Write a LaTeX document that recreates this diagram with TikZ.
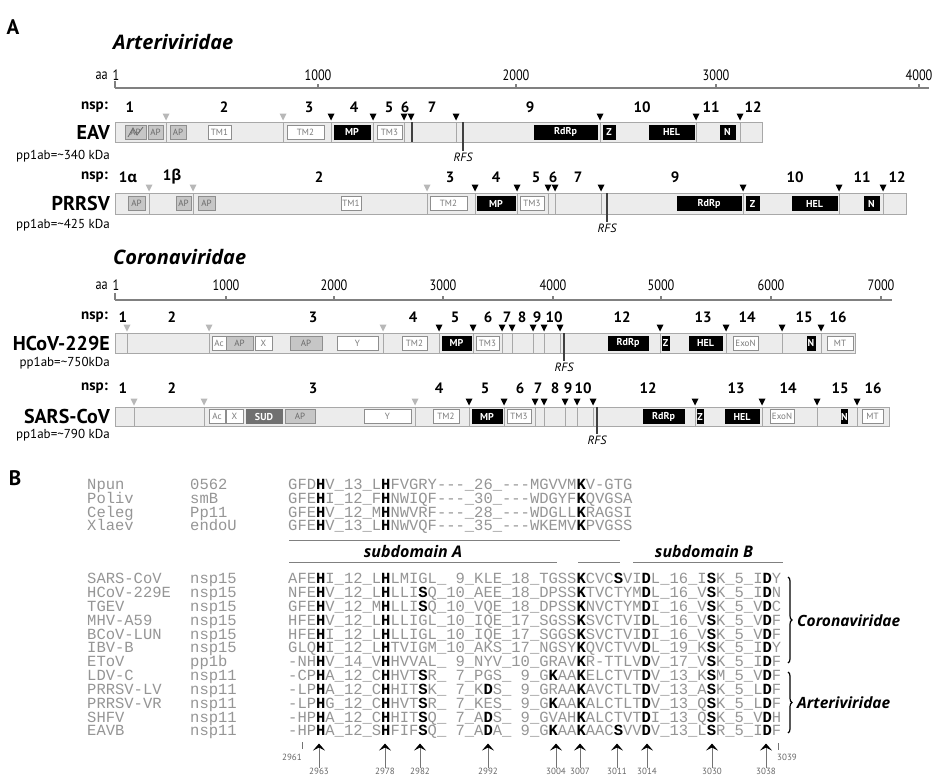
\documentclass[tikz,border=0pt]{standalone}
\usepackage{fontspec}
\setmainfont{PT Sans}
\setmonofont{Liberation Mono}
\newfontfamily\grk{Open Sans}
\newfontfamily\cond[FakeStretch=0.82]{PT Sans}
\usetikzlibrary{arrows.meta,decorations.pathreplacing}

\definecolor{barfill}{HTML}{ECECEC}
\definecolor{bargray}{HTML}{A8A8A8}
\definecolor{trigray}{HTML}{B8B8B8}
\definecolor{apfill}{HTML}{C6C6C6}
\definecolor{apline}{HTML}{8E8E8E}
\definecolor{aptext}{HTML}{6A6A6A}
\definecolor{wttext}{HTML}{7A7A7A}
\definecolor{sudfill}{HTML}{707070}
\definecolor{rulergray}{HTML}{808080}
\definecolor{seqgray}{HTML}{959595}

% highlighted residue, gap run, padding digit
\newcommand\hl[1]{{\color{black}\bfseries #1}}
\newcommand\gp{-{}-{}-}
\newcommand\pd{\hphantom{0}}

% row helpers: cleavage marks, cut lines, domain boxes, nsp numbers
\newcommand\tris[3]{\foreach \x in {#3} \fill[#1] (\x-3.5,#2) -- ++(7,0) -- ++(-3.5,7) -- cycle;}
\newcommand\cuts[3]{\foreach \x in {#3} \draw[cut] (\x,#1) -- (\x,#2);}
\newcommand\doms[3]{\foreach \a/\b/\t in {#3} \node[#2, minimum width={(\b-\a)*1pt}] (d#1-\a) at ({(\a+\b)/2},#1) {\t};}
\newcommand\nsps[2]{\foreach \x/\t in {#2} \node[nsp] (nsp#1-\x) at (\x,#1) {\t};}
\newcommand\seqrow[4]{%
  \node[seqtxt] (name-#2) at (87,#1) {#2};
  \node[seqtxt] (prot-#2) at (190,#1) {#3};
  \node[seqtxt] (seq-#2) at (288,#1) {#4};}

\begin{document}
\begin{tikzpicture}[x=1pt,y=-1pt]
\tikzstyle{panel}   = [font=\fontsize{21}{21}\selectfont\bfseries]
\tikzstyle{family}  = [anchor=west, inner sep=0pt, font=\grk\fontsize{20}{20}\selectfont\bfseries\itshape]
\tikzstyle{ruler}   = [draw=rulergray, line width=1.4pt]
\tikzstyle{rlbl}    = [inner sep=0pt, font=\cond\fontsize{15}{15}\selectfont]
\tikzstyle{nsp}     = [inner sep=0pt, font=\fontsize{15}{15}\selectfont\bfseries]
\tikzstyle{virus}   = [anchor=east, inner sep=0pt, font=\fontsize{20}{20}\selectfont\bfseries]
\tikzstyle{mass}    = [anchor=east, inner sep=0pt, font=\fontsize{13}{13}\selectfont]
\tikzstyle{bar}     = [draw=bargray, fill=barfill, line width=0.8pt]
\tikzstyle{cut}     = [draw=bargray, line width=0.8pt]
\tikzstyle{cutdark} = [draw=black!75, line width=1.1pt]
\tikzstyle{trilt}   = [fill=trigray]
\tikzstyle{tribk}   = [fill=black]
\tikzstyle{rfslbl}  = [anchor=north, inner sep=1pt, font=\fontsize{12}{12}\selectfont\itshape]
\tikzstyle{dom}     = [rectangle, minimum height=14pt, inner sep=0pt, line width=0.6pt, font=\fontsize{9}{9}\selectfont]
\tikzstyle{dap}     = [dom, draw=apline, fill=apfill, text=aptext]
\tikzstyle{dwt}     = [dom, draw=apline, fill=white, text=wttext]
\tikzstyle{dbk}     = [dom, draw=black, fill=black, text=white, font=\fontsize{10}{10}\selectfont\bfseries]
\tikzstyle{dsud}    = [dom, draw=sudfill, fill=sudfill, text=white, font=\fontsize{10}{10}\selectfont\bfseries]
\tikzstyle{seqtxt}  = [anchor=west, inner sep=0pt, text height=9pt, text depth=0pt, text=seqgray, font=\ttfamily\fontsize{15.5}{15.5}\selectfont]
\tikzstyle{subline} = [draw=rulergray, line width=0.9pt]
\tikzstyle{sublbl}  = [inner sep=0pt, font=\grk\fontsize{16}{16}\selectfont\bfseries\itshape]
\tikzstyle{grouplbl}= [anchor=west, inner sep=0pt, font=\grk\fontsize{15.5}{15.5}\selectfont\bfseries\itshape]
\tikzstyle{brace}   = [decorate, decoration={brace, amplitude=4pt}, line width=1.2pt]
\tikzstyle{poslbl}  = [inner sep=0pt, text=black!60, font=\fontsize{9}{9}\selectfont]
\tikzstyle{posarrow}= [draw=black!55, line width=0.8pt, -{Stealth[length=7pt, width=12pt, inset=3pt, black]}]

\useasboundingbox (0,0) rectangle (934,776);

%% panel A
\node[panel] (labA) at (13,27) {A};
\node[family] (arteri) at (113,42) {Arteriviridae};

\draw[ruler] (115,88) -- (929,88);
\draw[ruler] (115,88) -- (115,81);
\node[rlbl, anchor=east] (aa1) at (108,76) {aa};
\node[rlbl] (r1-1) at (116,75) {1};
\foreach \x/\t in {318/1000, 516/2000, 716/3000, 919/4000} {
  \draw[ruler] (\x,88) -- (\x,84);
  \node[rlbl] (r1-\t) at (\x,75) {\t};
}

% EAV
\node[nsp, anchor=east] (nspEAV) at (108,107) {nsp:};
\nsps{107}{130/1, 224/2, 309/3, 354/4, 389/5, 405/6, 432/7, 530/9, 642/10, 711/11, 753/12}
\draw[bar] (115,122) rectangle (762,142);
\cuts{122}{142}{166,283,331,373,404,456,600,696,740}
\draw[cutdark] (412,122) -- (412,142);
\tris{trilt}{113.5}{166,283}
\tris{tribk}{113.5}{331,373,404,411,456,600,696,740}
\doms{132}{dap}{125/146/AP, 148/163/AP, 170/186/AP}
\draw[aptext, line width=0.8pt] (128,137) -- (133,128) -- (137,135) -- (143,127);
\doms{132}{dwt}{208/231/TM1, 287/324/TM2, 377/402/TM3}
\doms{132}{dbk}{334/370/MP, 534/597/RdRp, 603/615/Z, 649/694/HEL, 720/735/N}
\draw[cutdark] (463,122) -- (463,151) node[rfslbl] (rfsEAV) {RFS};
\node[virus] (EAV) at (110,132) {EAV};
\node[mass] (mEAV) at (110,156) {pp1ab=\textasciitilde 340 kDa};

% PRRSV
\node[nsp, anchor=east] (nspPRRSV) at (108,177) {nsp:};
\nsps{177}{128/1{\grk α}, 172/1{\grk β}, 319/2, 450/3, 496/4, 536/5, 553/6, 578/7, 675/9, 795/10, 862/11, 897/12}
\draw[bar] (115,193) rectangle (906,214);
\cuts{193}{214}{149,193,427,475,517,548,555,601,743,839,883}
\tris{trilt}{184.5}{149,193,427}
\tris{tribk}{184.5}{475,517,548,555,601,743,839,883}
\doms{203.5}{dap}{128/145/AP, 176/191/AP, 198/215/AP}
\doms{203.5}{dwt}{341/361/TM1, 430/467/TM2, 520/544/TM3}
\doms{203.5}{dbk}{477/515/MP, 677/741/RdRp, 746/759/Z, 792/837/HEL, 864/879/N}
\draw[cutdark] (607,193) -- (607,222) node[rfslbl] (rfsPRRSV) {RFS};
\node[virus] (PRRSV) at (110,203) {PRRSV};
\node[mass] (mPRRSV) at (110,225) {pp1ab=\textasciitilde 425 kDa};

\node[family] (corona) at (113,257) {Coronaviridae};

\draw[ruler] (115,300) -- (892,300);
\draw[ruler] (115,300) -- (115,293);
\node[rlbl, anchor=east] (aa2) at (108,286) {aa};
\node[rlbl] (r2-1) at (116,285) {1};
\foreach \x/\t in {226/1000, 334/2000, 443/3000, 553/4000, 661/5000, 771/6000, 881/7000} {
  \draw[ruler] (\x,300) -- (\x,296);
  \node[rlbl] (r2-\t) at (\x,285) {\t};
}

% HCoV-229E
\node[nsp, anchor=east] (nspHCoV) at (108,317) {nsp:};
\nsps{317}{123/1, 172/2, 313/3, 413/4, 455/5, 488/6, 507/7, 522/8, 537/9, 554/10, 622/12, 703/13, 747/14, 804/15, 838/16}
\draw[bar] (115,333) rectangle (855,353);
\cuts{333}{353}{127,209,383,439,473,502,512,533,544,560,660,726,782,821}
\tris{trilt}{324.5}{127,209,383}
\tris{tribk}{324.5}{439,473,502,512,533,544,560,660,726,782,821}
\doms{343}{dwt}{212/226/Ac, 255/272/X, 337/378/Y, 402/427/TM2, 476/499/TM3, 733/758/ExoN, 827/853/MT}
\doms{343}{dap}{226/253/AP, 290/322/AP}
\doms{343}{dbk}{442/471/MP, 608/648/RdRp, 662/669/Z, 689/722/HEL, 807/815/N}
\draw[cutdark] (564,333) -- (564,361) node[rfslbl] (rfsHCoV) {RFS};
\node[virus] (HCoV) at (110,343) {HCoV-229E};
\node[mass] (mHCoV) at (110,363) {pp1ab=\textasciitilde 750kDa};

% SARS-CoV
\node[nsp, anchor=east] (nspSARS) at (108,388) {nsp:};
\nsps{388}{123/1, 172/2, 313/3, 439/4, 485/5, 520/6, 538/7, 555/8, 568/9, 583/10, 648/12, 736/13, 788/14, 840/15, 873/16}
\draw[bar] (115,407) rectangle (889,426);
\cuts{407}{426}{134,204,415,469,504,535,544,565,577,593,695,762,817,857}
\tris{trilt}{398.5}{134,204,415}
\tris{tribk}{398.5}{469,504,535,544,565,577,593,695,762,817,857}
\doms{416.5}{dwt}{209/225/Ac, 226/243/X, 364/411/Y, 433/459/TM2, 507/531/TM3, 770/794/ExoN, 862/883/MT}
\doms{416.5}{dsud}{246/282/SUD}
\doms{416.5}{dap}{285/315/AP}
\doms{416.5}{dbk}{472/502/MP, 643/684/RdRp, 697/703/Z, 725/759/HEL, 842/847/N}
\draw[cutdark] (597,407) -- (597,434) node[rfslbl] (rfsSARS) {RFS};
\node[virus] (SARS) at (110,416) {SARS-CoV};
\node[mass] (mSARS) at (110,435) {pp1ab=\textasciitilde 790 kDa};

%% panel B
\node[panel] (labB) at (15,478) {B};

\seqrow{485}{Npun}{0562}{GFD\hl{H}V\_13\_L\hl{H}FVGRY\gp\_26\_\gp MGVVM\hl{K}V-GTG}
\seqrow{499}{Poliv}{smB}{GFE\hl{H}I\_12\_F\hl{H}NWIQF\gp\_30\_\gp WDGYF\hl{K}QVGSA}
\seqrow{513}{Celeg}{Pp11}{GFE\hl{H}V\_12\_M\hl{H}NWVRF\gp\_28\_\gp WDGLL\hl{K}RAGSI}
\seqrow{526}{Xlaev}{endoU}{GFE\hl{H}V\_13\_L\hl{H}NWVQF\gp\_35\_\gp WKEMV\hl{K}PVGSS}

\draw[subline] (289,540) -- (620,540);
\draw[subline] (289,562) -- (557,562);
\draw[subline] (578,562) -- (620,562);
\draw[subline] (633,562) -- (783,562);
\node[sublbl] (subA) at (413,551) {subdomain A};
\node[sublbl] (subB) at (704,551) {subdomain B};

\seqrow{579}{SARS-CoV}{nsp15}{AFE\hl{H}I\_12\_L\hl{H}LMIGL\_\pd9\_KLE\_18\_TGSS\hl{K}CVC\hl{S}VI\hl{D}L\_16\_I\hl{S}K\_5\_I\hl{D}Y}
\seqrow{593}{HCoV-229E}{nsp15}{NFE\hl{H}V\_12\_L\hl{H}LLI\hl{S}Q\_10\_AEE\_18\_DPSS\hl{K}TVCTYM\hl{D}L\_16\_V\hl{S}K\_5\_I\hl{D}N}
\seqrow{607}{TGEV}{nsp15}{GFE\hl{H}V\_12\_M\hl{H}LLI\hl{S}Q\_10\_VQE\_18\_DPSS\hl{K}NVCTYM\hl{D}I\_16\_V\hl{S}K\_5\_V\hl{D}C}
\seqrow{621}{MHV-A59}{nsp15}{HFE\hl{H}V\_12\_L\hl{H}LLIGL\_10\_IQE\_17\_SGSS\hl{K}SVCTVI\hl{D}L\_16\_V\hl{S}K\_5\_V\hl{D}F}
\seqrow{635}{BCoV-LUN}{nsp15}{HFE\hl{H}I\_12\_L\hl{H}LLIGL\_10\_IQE\_17\_SGGS\hl{K}SVCTVI\hl{D}I\_16\_V\hl{S}K\_5\_V\hl{D}F}
\seqrow{648}{IBV-B}{nsp15}{GLQ\hl{H}I\_12\_L\hl{H}TVIGM\_10\_AKS\_17\_NGSY\hl{K}QVCTVV\hl{D}L\_19\_K\hl{S}K\_5\_I\hl{D}Y}
\seqrow{662}{EToV}{pp1b}{-NH\hl{H}V\_14\_V\hl{H}HVVAL\_\pd9\_NYV\_10\_GRAV\hl{K}R-TTLV\hl{D}V\_17\_V\hl{S}K\_5\_I\hl{D}F}
\seqrow{676}{LDV-C}{nsp11}{-CP\hl{H}A\_12\_C\hl{H}HVT\hl{S}R\_\pd7\_PGS\_\pd9\_G\hl{K}AA\hl{K}ELCTVT\hl{D}V\_13\_K\hl{S}M\_5\_V\hl{D}F}
\seqrow{690}{PRRSV-LV}{nsp11}{-LP\hl{H}A\_12\_C\hl{H}HIT\hl{S}K\_\pd7\_K\hl{D}S\_\pd9\_GRAA\hl{K}AVCTLT\hl{D}V\_13\_A\hl{S}K\_5\_L\hl{D}F}
\seqrow{704}{PRRSV-VR}{nsp11}{-LP\hl{H}G\_12\_C\hl{H}HVT\hl{S}R\_\pd7\_KES\_\pd9\_G\hl{K}AA\hl{K}ALCTLT\hl{D}V\_13\_Q\hl{S}K\_5\_L\hl{D}F}
\seqrow{718}{SHFV}{nsp11}{-HP\hl{H}A\_12\_C\hl{H}HIT\hl{S}Q\_\pd7\_A\hl{D}S\_\pd9\_GVAH\hl{K}ALCTVT\hl{D}I\_13\_Q\hl{S}K\_5\_V\hl{D}H}
\seqrow{731}{EAVB}{nsp11}{-HP\hl{H}A\_12\_S\hl{H}FIF\hl{S}Q\_\pd7\_A\hl{D}A\_\pd9\_G\hl{K}AA\hl{K}AAC\hl{S}VV\hl{D}V\_13\_L\hl{S}R\_5\_I\hl{D}F}

\draw[brace] (788,577) -- (788,663);
\node[grouplbl] (gCorona) at (797,621) {Coronaviridae};
\draw[brace] (788,672) -- (788,733);
\node[grouplbl] (gArteri) at (797,703) {Arteriviridae};

% residue numbers
\draw[draw=black!55, line width=0.8pt] (302,742) -- (302,749);
\node[poslbl, anchor=east] (p2961) at (302,757) {2961};
\draw[draw=black!55, line width=0.8pt] (778,743) -- (778,750);
\node[poslbl, anchor=west] (p3039) at (777,757) {3039};
\foreach \x/\t in {319/2963, 385/2978, 420/2982, 488/2992, 556/3004, 580/3007, 617/3011, 647/3014, 712/3030, 766/3038} {
  \node[poslbl] (p\t) at (\x,771) {\t};
  \draw[posarrow] (p\t.north) -- ++(0,-24);
}
\end{tikzpicture}
\end{document}
